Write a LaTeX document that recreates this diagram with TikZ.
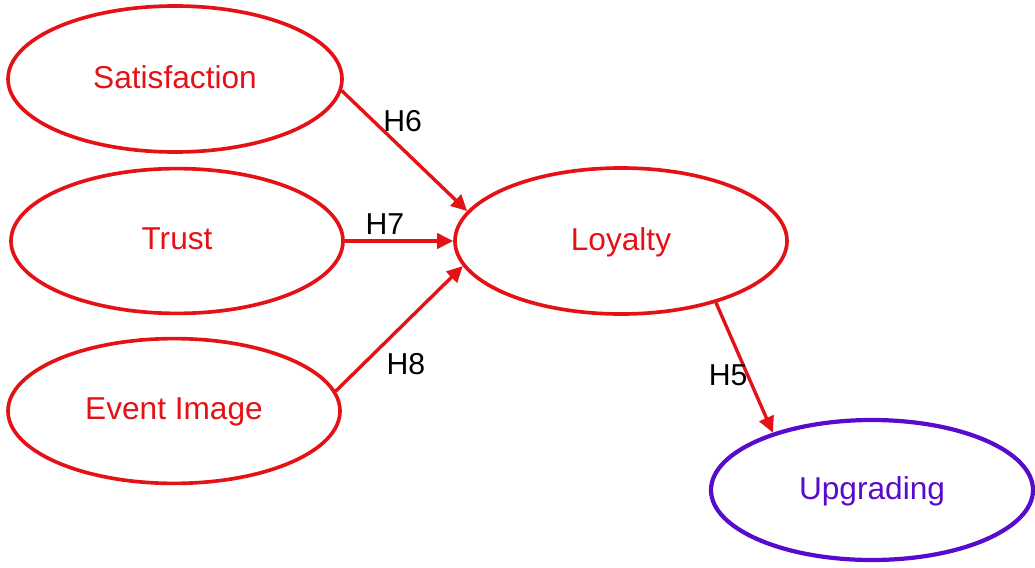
\documentclass[tikz,border=0pt]{standalone}
\usepackage{fontspec}
\setmainfont{Liberation Sans}
\usetikzlibrary{shapes.geometric, positioning, arrows.meta}
\definecolor{cred}{RGB}{228,18,22}
\definecolor{cviolet}{RGB}{88,10,205}

\begin{document}
\begin{tikzpicture}[
	construct/.style={ellipse, draw=cred, text=cred, line width=2.6pt, minimum width=8.3cm, minimum height=3.62cm, inner sep=0pt, text depth=0.3em, font=\fontsize{22.5}{27}\selectfont},
	link/.style={draw=cred, line width=2.4pt, -{Triangle[length=0.4cm, width=0.38cm]}},
	every node/.style={font=\fontsize{21.5}{26}\selectfont}
]
	\useasboundingbox (0,0) rectangle (25.875,-14.175);

	\node[construct, minimum width=8.35cm, minimum height=3.65cm] (sat) at (4.375,-1.975) {Satisfaction};
	\node[construct, node distance=4.05cm, below of=sat, xshift=0.05cm] (tru) {Trust};
	\node[construct, node distance=4.25cm, below of=tru, xshift=-0.075cm] (img) {Event Image};
	\node[construct, node distance=11.1cm, right of=tru, minimum height=3.65cm] (loy) {Loyalty};
	\node[construct, node distance=6.225cm, below of=loy, xshift=6.275cm, draw=cviolet, text=cviolet, line width=3pt, minimum width=8.05cm, minimum height=3.5cm] (upg) {Upgrading};

	\path
		(sat.-4) edge[link] node[right, pos=0.28, yshift=2pt]{H6} (loy.169)
		(tru) edge[link] node[above, pos=0.37]{H7} (loy)
		(img.7) edge[link] node[below right, pos=0.35]{H8} (loy.189)
		(loy.-33) edge[link] node[left=-0.15cm, pos=0.56]{H5} (upg.150)
		;
\end{tikzpicture}
\end{document}
